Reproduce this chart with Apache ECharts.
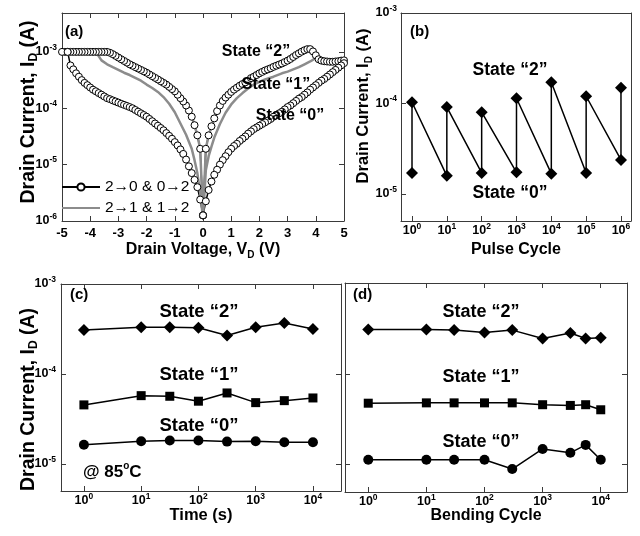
<!DOCTYPE html>
<html lang="en">
<head>
<meta charset="UTF-8">
<script src="https://cdn.jsdelivr.net/npm/echarts@6.0.0/dist/echarts.min.js"></script>
<title>Drain current panels</title>
<style>
    html, body { margin: 0; padding: 0; background: #fff; }
    #main { width: 640px; height: 536px; }
</style>
</head>
<body>
<div id="main"></div>
<script>
    // (a) I-V sweeps, [V, I] pairs
    const aUpperNeg = [[0,1.26e-6],[-0.1,1.91e-5],[-0.2,3.31e-5],[-0.3,5.01e-5],[-0.4,7.08e-5],[-0.5,9.12e-5],
        [-0.6,1.12e-4],[-0.7,1.32e-4],[-0.8,1.51e-4],[-0.9,1.74e-4],[-1.0,2.00e-4],[-1.1,2.19e-4],[-1.2,2.40e-4],
        [-1.3,2.63e-4],[-1.4,2.82e-4],[-1.5,3.02e-4],[-1.6,3.24e-4],[-1.7,3.47e-4],[-1.8,3.72e-4],[-1.9,3.98e-4],
        [-2.0,4.27e-4],[-2.1,4.52e-4],[-2.2,4.79e-4],[-2.3,5.07e-4],[-2.4,5.37e-4],[-2.5,5.69e-4],[-2.6,6.03e-4],
        [-2.7,6.46e-4],[-2.8,6.92e-4],[-2.9,7.41e-4],[-3.0,7.94e-4],[-3.1,8.51e-4],[-3.2,9.12e-4],[-3.3,9.66e-4],
        [-3.4,1.0e-3],[-3.5,1.0e-3],[-3.6,1.0e-3],[-3.7,1.0e-3],[-3.8,1.0e-3],[-3.9,1.0e-3],[-4.0,1.0e-3],
        [-4.1,1.0e-3],[-4.2,1.0e-3],[-4.3,1.0e-3],[-4.4,1.0e-3],[-4.5,1.0e-3],[-4.6,1.0e-3],[-4.7,1.0e-3],
        [-4.8,1.0e-3],[-4.9,1.0e-3],[-5.0,1.0e-3]];
    const aLowerNeg = [[-4.8,1.0e-3],[-4.7,5.75e-4],[-4.6,4.90e-4],[-4.5,4.17e-4],[-4.4,3.63e-4],[-4.3,3.16e-4],
        [-4.2,2.82e-4],[-4.1,2.57e-4],[-4.0,2.34e-4],[-3.9,2.14e-4],[-3.8,2.00e-4],[-3.7,1.86e-4],[-3.6,1.74e-4],
        [-3.5,1.62e-4],[-3.4,1.51e-4],[-3.3,1.45e-4],[-3.2,1.38e-4],[-3.1,1.32e-4],[-3.0,1.26e-4],[-2.9,1.20e-4],
        [-2.8,1.15e-4],[-2.7,1.10e-4],[-2.6,1.05e-4],[-2.5,1.00e-4],[-2.4,9.33e-5],[-2.3,8.71e-5],[-2.2,8.13e-5],
        [-2.1,7.59e-5],[-2.0,7.08e-5],[-1.9,6.46e-5],[-1.8,5.89e-5],[-1.7,5.37e-5],[-1.6,4.90e-5],[-1.5,4.47e-5],
        [-1.4,4.07e-5],[-1.3,3.63e-5],[-1.2,3.24e-5],[-1.1,2.88e-5],[-1.0,2.51e-5],[-0.9,2.19e-5],[-0.8,1.86e-5],
        [-0.7,1.55e-5],[-0.6,1.23e-5],[-0.5,9.33e-6],[-0.4,7.08e-6],[-0.3,5.37e-6],[-0.2,3.98e-6],[-0.1,2.40e-6],
        [0,1.26e-6]];
    const aUpperPos = [[0,1.26e-6],[0.1,1.91e-5],[0.2,3.31e-5],[0.3,4.79e-5],[0.4,6.61e-5],[0.5,8.91e-5],
        [0.6,1.12e-4],[0.7,1.35e-4],[0.8,1.55e-4],[0.9,1.74e-4],[1.0,1.95e-4],[1.1,2.14e-4],[1.2,2.32e-4],
        [1.3,2.51e-4],[1.4,2.69e-4],[1.5,2.88e-4],[1.6,3.09e-4],[1.7,3.43e-4],[1.8,3.63e-4],[1.9,3.89e-4],
        [2.0,4.17e-4],[2.1,4.42e-4],[2.2,4.68e-4],[2.3,4.90e-4],[2.4,5.13e-4],[2.5,5.43e-4],[2.6,5.69e-4],
        [2.7,5.96e-4],[2.8,6.24e-4],[2.9,6.61e-4],[3.0,7.00e-4],[3.1,7.50e-4],[3.2,8.13e-4],[3.3,8.81e-4],
        [3.4,9.44e-4],[3.5,1.01e-3],[3.6,1.07e-3],[3.7,1.12e-3],[3.8,1.12e-3],[3.9,1.02e-3],[4.0,8.71e-4],
        [4.1,7.41e-4],[4.2,7.00e-4],[4.3,6.84e-4],[4.4,6.76e-4],[4.5,6.68e-4],[4.6,6.68e-4],[4.7,6.76e-4],
        [4.8,6.84e-4],[4.9,7.00e-4],[5.0,7.08e-4]];
    const aLowerPos = [[5.0,6.31e-4],[4.9,5.75e-4],[4.8,5.25e-4],[4.7,4.79e-4],[4.6,4.37e-4],[4.5,3.98e-4],
        [4.4,3.63e-4],[4.3,3.31e-4],[4.2,3.09e-4],[4.1,2.82e-4],[4.0,2.57e-4],[3.9,2.34e-4],[3.8,2.14e-4],
        [3.7,1.91e-4],[3.6,1.74e-4],[3.5,1.58e-4],[3.4,1.48e-4],[3.3,1.35e-4],[3.2,1.23e-4],[3.1,1.12e-4],
        [3.0,1.05e-4],[2.9,9.55e-5],[2.8,8.71e-5],[2.7,8.13e-5],[2.6,7.59e-5],[2.5,7.08e-5],[2.4,6.46e-5],
        [2.3,6.03e-5],[2.2,5.62e-5],[2.1,5.25e-5],[2.0,4.90e-5],[1.9,4.57e-5],[1.8,4.27e-5],[1.7,3.89e-5],
        [1.6,3.55e-5],[1.5,3.16e-5],[1.4,2.88e-5],[1.3,2.63e-5],[1.2,2.34e-5],[1.1,2.14e-5],[1.0,1.91e-5],
        [0.9,1.66e-5],[0.8,1.41e-5],[0.7,1.20e-5],[0.6,1.00e-5],[0.5,8.13e-6],[0.4,6.61e-6],[0.3,5.01e-6],
        [0.2,3.55e-6],[0.1,2.24e-6],[0,1.26e-6]];
    // grey sweep, middle (state "1") branches
    const aMidNeg = [[-3.8,9.33e-4],[-3.6,7.08e-4],[-3.4,6.03e-4],[-3.2,5.37e-4],[-3.0,4.79e-4],[-2.8,4.27e-4],
        [-2.6,3.89e-4],[-2.4,3.47e-4],[-2.2,3.09e-4],[-2.0,2.63e-4],[-1.8,2.29e-4],[-1.6,1.95e-4],[-1.4,1.58e-4],
        [-1.2,1.20e-4],[-1.0,8.51e-5],[-0.8,5.37e-5],[-0.6,3.39e-5],[-0.4,1.91e-5],[-0.3,1.20e-5],[-0.2,7.08e-6],
        [-0.1,3.16e-6],[0,1.12e-6]];
    const aMidPos = [[0,1.12e-6],[0.1,7.94e-6],[0.2,1.41e-5],[0.3,2.09e-5],[0.4,3.02e-5],[0.6,5.25e-5],
        [0.8,8.32e-5],[1.0,1.17e-4],[1.2,1.51e-4],[1.4,1.86e-4],[1.6,2.24e-4],[1.8,2.63e-4],[2.0,2.95e-4],
        [2.2,3.24e-4],[2.5,3.63e-4],[2.8,4.17e-4],[3.0,4.47e-4],[3.2,4.90e-4],[3.4,5.37e-4],[3.6,6.03e-4],
        [3.8,6.76e-4],[4.0,7.76e-4]];

    // (b) pulse cycling
    const pulseCycles = [1, 10, 100, 1000, 10000, 100000, 1000000];
    const pulseState2 = [1.03e-4, 9.1e-5, 8.0e-5, 1.14e-4, 1.71e-4, 1.20e-4, 1.49e-4];
    const pulseState0 = [1.70e-5, 1.58e-5, 1.70e-5, 1.73e-5, 1.67e-5, 1.70e-5, 2.37e-5];

    // (c) retention at 85 C
    const timeS = [1, 10, 31.6, 100, 316, 1000, 3162, 10000];
    const timeState2 = [3.08e-4, 3.30e-4, 3.30e-4, 3.27e-4, 2.67e-4, 3.30e-4, 3.69e-4, 3.16e-4];
    const timeState1 = [4.53e-5, 5.74e-5, 5.65e-5, 4.98e-5, 6.15e-5, 4.80e-5, 5.05e-5, 5.41e-5];
    const timeState0 = [1.63e-5, 1.79e-5, 1.82e-5, 1.82e-5, 1.77e-5, 1.79e-5, 1.74e-5, 1.74e-5];

    // (d) bending
    const bendCycles = [1, 10, 30, 100, 300, 1000, 3000, 5500, 10000];
    const bendState2 = [3.08e-4, 3.08e-4, 3.03e-4, 2.85e-4, 3.03e-4, 2.45e-4, 2.82e-4, 2.45e-4, 2.49e-4];
    const bendState1 = [4.75e-5, 4.79e-5, 4.79e-5, 4.79e-5, 4.79e-5, 4.57e-5, 4.49e-5, 4.57e-5, 4.02e-5];
    const bendState0 = [1.13e-5, 1.13e-5, 1.13e-5, 1.13e-5, 8.95e-6, 1.49e-5, 1.35e-5, 1.65e-5, 1.13e-5];

    const voltTicks = [-5, -4, -3, -2, -1, 0, 1, 2, 3, 4, 5];
    const legendNames = ['2\u21920 & 0\u21922', '2\u21921 & 1\u21922'];

    const FONT = '"Liberation Sans", Arial, sans-serif';
    const FRAME = '#3a3a3a';
    const GREY = '#8c8c8c';

    function powLabel(v) {
        const e = Math.log10(v);
        const r = Math.round(e);
        return Math.abs(e - r) < 1e-6 ? '{b|10}{s|' + r + '}' : '';
    }
    const powRich = {
        b: { fontSize: 12.5, fontWeight: 'bold', fontFamily: FONT, color: '#000', lineHeight: 18 },
        s: { fontSize: 8.5, fontWeight: 'bold', fontFamily: FONT, color: '#000', lineHeight: 9, verticalAlign: 'top' }
    };
    function nameStyle(size, padding) {
        return {
            fontFamily: FONT, fontSize: size, fontWeight: 'bold', color: '#000', lineHeight: size + 4,
            padding: padding || 0,
            rich: { sub: { fontFamily: FONT, fontSize: Math.round(size * 0.62), fontWeight: 'bold', color: '#000',
                lineHeight: 10, verticalAlign: 'bottom' } }
        };
    }

    function axis(gridIndex, extra, ticks) {
        return Object.assign({
            gridIndex: gridIndex,
            nameMoveOverlap: false,
            axisLine: { show: true, onZero: false, lineStyle: { color: FRAME, width: 1 } },
            axisTick: { show: ticks !== false, inside: true, length: 5, lineStyle: { color: FRAME, width: 1 } },
            splitLine: { show: false },
            axisLabel: { show: false }
        }, extra);
    }
    function logLabels(margin) {
        return { show: true, margin: margin, formatter: powLabel, rich: powRich, hideOverlap: false };
    }

    const xAxes = [
        axis(0, { type: 'value', min: voltTicks[0], max: voltTicks[voltTicks.length - 1], interval: 1, position: 'bottom',
            axisLabel: { show: true, margin: 6, fontFamily: FONT, fontSize: 13, fontWeight: 'bold', color: '#000' },
            name: 'Drain Voltage, V{sub|D} (V)', nameLocation: 'middle', nameGap: 19, nameTextStyle: nameStyle(16) }),
        axis(0, { type: 'value', min: -5, max: 5, interval: 1, position: 'top' }),
        axis(1, { type: 'log', min: 0.483, max: 1.94e6, position: 'bottom', axisLabel: logLabels(1),
            name: 'Pulse Cycle', nameLocation: 'middle', nameGap: 19, nameTextStyle: nameStyle(16) }),
        axis(1, { type: 'log', min: 0.483, max: 1.94e6, position: 'top' }, false),
        axis(2, { type: 'log', min: 0.398, max: 30900, position: 'bottom', axisLabel: logLabels(1),
            name: 'Time (s)', nameLocation: 'middle', nameGap: 14, nameTextStyle: nameStyle(16.5) }),
        axis(2, { type: 'log', min: 0.398, max: 30900, position: 'top' }),
        axis(3, { type: 'log', min: 0.398, max: 28300, position: 'bottom', axisLabel: logLabels(1),
            name: 'Bending Cycle', nameLocation: 'middle', nameGap: 14, nameTextStyle: nameStyle(16) }),
        axis(3, { type: 'log', min: 0.398, max: 28300, position: 'top' })
    ];
    const yName = 'Drain Current, I{sub|D} (A)';
    const yAxes = [
        axis(0, { type: 'log', min: 1e-6, max: 4.9e-3, position: 'left', axisLabel: logLabels(5),
            name: yName, nameLocation: 'middle', nameGap: 22, nameTextStyle: nameStyle(19.5, [0, 0, 0, 10]) }),
        axis(0, { type: 'log', min: 1e-6, max: 4.9e-3, position: 'right' }),
        axis(1, { type: 'log', min: 5e-6, max: 1e-3, position: 'left', axisLabel: logLabels(4),
            name: yName, nameLocation: 'middle', nameGap: 27, nameTextStyle: nameStyle(16.5, [0, 0, 0, 22]) }),
        axis(1, { type: 'log', min: 5e-6, max: 1e-3, position: 'right' }, false),
        axis(2, { type: 'log', min: 5e-6, max: 1e-3, position: 'left', axisLabel: logLabels(5),
            name: yName, nameLocation: 'middle', nameGap: 21, nameTextStyle: nameStyle(19.5, [0, 24, 0, 0]) }),
        axis(2, { type: 'log', min: 5e-6, max: 1e-3, position: 'right' }),
        axis(3, { type: 'log', min: 5e-6, max: 1e-3, position: 'left' }),
        axis(3, { type: 'log', min: 5e-6, max: 1e-3, position: 'right' })
    ];

    // build sweeps in the order they were measured
    const blackSweep = aUpperNeg.concat(aLowerNeg, aUpperPos, aLowerPos);
    const greySweep = aUpperNeg.slice(0, 39).concat(aMidNeg, aMidPos, aUpperPos.slice(0, 40).reverse());
    const pulseSeq = [];
    pulseCycles.forEach(function (c, i) {
        pulseSeq.push([c, pulseState0[i]], [c, pulseState2[i]]);
    });
    function pairs(xs, ys) {
        return xs.map(function (x, i) { return [x, ys[i]]; });
    }
    function marked(grid, data, symbol, size) {
        return {
            type: 'line', xAxisIndex: grid * 2, yAxisIndex: grid * 2, data: data,
            symbol: symbol, symbolSize: size, showSymbol: true,
            itemStyle: { color: '#000' }, lineStyle: { color: '#000', width: 1.5 },
            emphasis: { disabled: true }
        };
    }

    function label(text, x, y, size, align) {
        return {
            type: 'text', z: 100,
            style: { text: text, x: x, y: y, fontFamily: FONT, fontSize: size, fontWeight: 'bold', fill: '#000',
                textAlign: align || 'center', textVerticalAlign: 'middle' }
        };
    }

    const option = {
        animation: false,
        backgroundColor: '#fff',
        grid: [
            { left: 62, top: 13, width: 282, height: 208, outerBoundsMode: 'none' },
            { left: 401, top: 13, width: 230, height: 208, outerBoundsMode: 'none' },
            { left: 61, top: 284, width: 280, height: 207, outerBoundsMode: 'none' },
            { left: 345, top: 283, width: 282, height: 209, outerBoundsMode: 'none' }
        ],
        xAxis: xAxes,
        yAxis: yAxes,
        legend: {
            data: [
                { name: legendNames[0] },
                // thin bar inside a 38x9 box, so the grey key stays a line
                { name: legendNames[1], icon: 'path://M0,0 L0,9 M0,3.6 L38,3.6 L38,5.6 L0,5.6 Z', itemStyle: { color: GREY } }
            ],
            orient: 'vertical', left: 61, top: 179, padding: 0,
            itemWidth: 38, itemHeight: 9, itemGap: 5, selectedMode: false,
            textStyle: { fontFamily: FONT, fontSize: 15.5, color: '#000' }
        },
        series: [
            {
                type: 'line', name: legendNames[0], xAxisIndex: 0, yAxisIndex: 0, data: blackSweep,
                symbol: 'circle', symbolSize: 7, showSymbol: true,
                itemStyle: { color: '#fff', borderColor: '#000', borderWidth: 1 },
                lineStyle: { color: '#000', width: 1.5 }, emphasis: { disabled: true }
            },
            {
                type: 'line', name: legendNames[1], xAxisIndex: 0, yAxisIndex: 0, data: greySweep,
                symbol: 'none', itemStyle: { color: GREY },
                lineStyle: { color: GREY, width: 2.5 }, emphasis: { disabled: true }
            },
            marked(1, pulseSeq, 'diamond', 12),
            marked(2, pairs(timeS, timeState2), 'diamond', 12),
            marked(2, pairs(timeS, timeState1), 'rect', 9),
            marked(2, pairs(timeS, timeState0), 'circle', 10),
            marked(3, pairs(bendCycles, bendState2), 'diamond', 12),
            marked(3, pairs(bendCycles, bendState1), 'rect', 9),
            marked(3, pairs(bendCycles, bendState0), 'circle', 10)
        ],
        graphic: [
            label('(a)', 65, 32, 15, 'left'),
            label('State \u201c2\u201d', 256, 52, 16),
            label('State \u201c1\u201d', 276, 85, 16),
            label('State \u201c0\u201d', 290, 116, 16),
            label('(b)', 410, 32, 15, 'left'),
            label('State \u201c2\u201d', 510, 70, 17.5),
            label('State \u201c0\u201d', 510, 193, 17.5),
            label('(c)', 70, 295, 15, 'left'),
            label('State \u201c2\u201d', 199, 312, 18.5),
            label('State \u201c1\u201d', 199, 375, 18.5),
            label('State \u201c0\u201d', 199, 426, 18.5),
            {
                type: 'text', z: 100,
                style: { text: '{b|@ 85}{s|o}{b|C}', x: 83, y: 472, textAlign: 'left', textVerticalAlign: 'middle',
                    rich: {
                        b: { fontFamily: FONT, fontSize: 17, fontWeight: 'bold', fill: '#000', lineHeight: 22 },
                        s: { fontFamily: FONT, fontSize: 10, fontWeight: 'bold', fill: '#000', lineHeight: 10, verticalAlign: 'top' }
                    } }
            },
            label('(d)', 353, 295, 15, 'left'),
            label('State \u201c2\u201d', 481, 312, 18),
            label('State \u201c1\u201d', 481, 377, 18),
            label('State \u201c0\u201d', 481, 442, 18)
        ]
    };

    const myChart = echarts.init(document.getElementById('main'), null, { renderer: 'canvas' });
    myChart.setOption(option);
</script>
</body>
</html>
